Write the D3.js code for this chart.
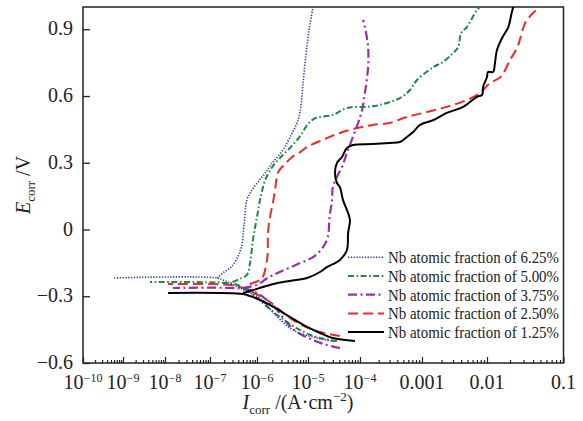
<!DOCTYPE html>
<html><head><meta charset="utf-8">
<script src="https://cdn.jsdelivr.net/npm/d3@7"></script>
<style>body{margin:0;background:#fff} svg{display:block}</style>
</head><body>
<svg id="c" width="583" height="421"></svg>
<script>
// ---------------- DATA ([I (A/cm2), E (V)]) ----------------
const seriesNames = [
  "Nb atomic fraction of 6.25%",
  "Nb atomic fraction of 5.00%",
  "Nb atomic fraction of 3.75%",
  "Nb atomic fraction of 2.50%",
  "Nb atomic fraction of 1.25%"
];
const blueCathodic = [[3.2e-5,-0.503],[1.5e-5,-0.488],[5.1e-6,-0.452],[2.1e-6,-0.375],[1.25e-6,-0.317],[7.1e-7,-0.285],[4.3e-7,-0.263],[2.1e-7,-0.231],[1.4e-7,-0.218],[5.6e-10,-0.218]];
const blueAnodic = [[1.4e-7,-0.218],[2.0e-7,-0.191],[2.8e-7,-0.169],[3.6e-7,-0.137],[4.6e-7,-0.083],[5.3e-7,0.020],[6.1e-7,0.133],[7.4e-7,0.169],[1.05e-6,0.214],[1.5e-6,0.258],[2.0e-6,0.299],[3.2e-6,0.357],[4.9e-6,0.434],[6.4e-6,0.492],[7.3e-6,0.560],[8.0e-6,0.658],[9.1e-6,0.784],[1.05e-5,0.897],[1.25e-5,1.0]];
const greenCathodic = [[3.6e-5,-0.501],[1.7e-5,-0.488],[7.0e-6,-0.452],[2.8e-6,-0.393],[1.3e-6,-0.330],[9.1e-7,-0.299],[6.1e-7,-0.272],[3.9e-7,-0.249],[2.1e-7,-0.240],[4.4e-9,-0.236]];
const greenAnodic = [[3.0e-7,-0.236],[4.3e-7,-0.222],[6.1e-7,-0.204],[7.1e-7,-0.151],[8.2e-7,-0.047],[1.0e-6,0.056],[1.2e-6,0.155],[1.5e-6,0.231],[2.0e-6,0.281],[2.8e-6,0.321],[4.4e-6,0.366],[7.0e-6,0.420],[1.0e-5,0.474],[1.4e-5,0.501],[3.0e-5,0.515],[5.6e-5,0.546],[1.3e-4,0.551],[2.1e-4,0.560],[4.4e-4,0.591],[6.4e-4,0.627],[8.3e-4,0.672],[1.5e-3,0.730],[2.1e-3,0.753],[3.0e-3,0.793],[3.6e-3,0.820],[4.0e-3,0.883],[4.9e-3,0.910],[7.0e-3,0.987],[7.8e-3,1.0]];
const purpleCathodic = [[4.1e-5,-0.533],[2.3e-5,-0.519],[1.25e-5,-0.497],[6.1e-6,-0.461],[3.9e-6,-0.420],[2.3e-6,-0.353],[1.4e-6,-0.308],[9.1e-7,-0.281],[5.6e-7,-0.267],[1.5e-8,-0.263]];
const purpleAnodic = [[5.0e-7,-0.263],[1.0e-6,-0.249],[1.6e-6,-0.218],[2.8e-6,-0.191],[7.0e-6,-0.151],[1.25e-5,-0.124],[1.9e-5,-0.083],[2.4e-5,-0.034],[2.6e-5,0.056],[2.9e-5,0.133],[3.0e-5,0.191],[3.6e-5,0.236],[4.5e-5,0.281],[5.6e-5,0.344],[7.3e-5,0.416],[9.2e-5,0.479],[1.08e-4,0.537],[1.2e-4,0.613],[1.35e-4,0.730],[1.35e-4,0.820],[1.2e-4,0.910],[1.12e-4,0.942]];
const redCathodic = [[4.1e-5,-0.479],[1.25e-5,-0.452],[5.1e-6,-0.407],[2.8e-6,-0.362],[1.8e-6,-0.326],[1.15e-6,-0.299],[7.1e-7,-0.276],[4.3e-7,-0.258],[2.7e-7,-0.249],[1.17e-8,-0.245]];
const redAnodic = [[7.0e-7,-0.245],[1.15e-6,-0.227],[1.3e-6,-0.214],[1.6e-6,-0.124],[1.64e-6,-0.016],[1.8e-6,0.056],[2.1e-6,0.133],[2.3e-6,0.191],[2.6e-6,0.258],[3.4e-6,0.290],[4.9e-6,0.326],[7.0e-6,0.348],[9.6e-6,0.371],[1.9e-5,0.402],[4.1e-5,0.434],[8.7e-5,0.456],[1.6e-4,0.470],[3.0e-4,0.479],[5.7e-4,0.506],[1.2e-3,0.528],[2.4e-3,0.551],[4.9e-3,0.582],[7.8e-3,0.613],[1.09e-2,0.658],[1.5e-2,0.685],[2.0e-2,0.762],[2.5e-2,0.820],[3.16e-2,0.928],[4.0e-2,0.973],[5.0e-2,1.0]];
const blackCathodic = [[8.0e-5,-0.501],[3.0e-5,-0.488],[1.7e-5,-0.465],[9.6e-6,-0.438],[4.4e-6,-0.393],[2.1e-6,-0.348],[1.15e-6,-0.317],[7.1e-7,-0.299],[5.0e-7,-0.290],[1.17e-8,-0.285]];
const blackAnodic = [[5.0e-7,-0.285],[1.0e-6,-0.267],[2.1e-6,-0.245],[4.4e-6,-0.231],[9.6e-6,-0.218],[1.7e-5,-0.191],[2.3e-5,-0.169],[4.1e-5,-0.137],[5.6e-5,-0.092],[5.9e-5,-0.016],[6.4e-5,0.043],[5.6e-5,0.088],[4.7e-5,0.133],[4.1e-5,0.191],[3.6e-5,0.209],[3.3e-5,0.254],[3.6e-5,0.299],[4.5e-5,0.326],[5.6e-5,0.366],[7.3e-5,0.380],[1.6e-4,0.384],[3.0e-4,0.389],[4.4e-4,0.393],[5.7e-4,0.416],[7.2e-4,0.438],[9.3e-4,0.470],[1.5e-3,0.492],[2.4e-3,0.524],[4.3e-3,0.551],[7.0e-3,0.596],[8.4e-3,0.605],[8.7e-3,0.641],[1.0e-2,0.685],[1.03e-2,0.708],[1.2e-2,0.708],[1.27e-2,0.748],[1.35e-2,0.807],[1.6e-2,0.865],[1.9e-2,0.910],[2.1e-2,0.973],[2.2e-2,1.0]];

const yTickValues = [-0.6,-0.3,0,0.3,0.6,0.9];
const xTickExponents = [-10,-9,-8,-7,-6,-5,-4,-3,-2,-1];
const xTickLabels = ["10^−10","10^−9","10^−8","10^−7","10^−6","10^−5","10^−4","0.001","0.01","0.1"];

// ---------------- LAYOUT ----------------
const L=83, R=563.5, T=7, B=363;
const xMajorPx = [83,123,165,210,257,308,360,422,487,563.5];
const FONT = "'Liberation Serif','Times New Roman',serif";
const svg = d3.select("#c");

const xMajor = xTickExponents.map(e=>Math.pow(10,e));
const x = d3.scaleLog().domain(xMajor).range(xMajorPx);
const y = d3.scaleLinear().domain([-0.6,1.0]).range([B,T]);

svg.append("defs").append("clipPath").attr("id","clip")
  .append("rect").attr("x",L).attr("y",T).attr("width",R-L).attr("height",B-T);

// minor ticks
const minors = [];
xTickExponents.slice(0,-1).forEach(e=>{ for(let k=2;k<10;k++) minors.push(k*Math.pow(10,e)); });

const gx = svg.append("g").attr("transform",`translate(0,${B})`);
gx.call(d3.axisBottom(x).tickValues(xMajor).tickSize(-6).tickFormat(""));
const gxm = svg.append("g").attr("transform",`translate(0,${B})`);
gxm.call(d3.axisBottom(x).tickValues(minors).tickSize(-3).tickFormat(""));
[gx,gxm].forEach(g=>{ g.select(".domain").remove(); g.selectAll("line").attr("stroke","#222").attr("stroke-width",1.2); });

// x tick labels
xTickLabels.forEach((lab,i)=>{
  const t = svg.append("text").attr("x",x(xMajor[i])).attr("y",389)
    .attr("text-anchor","middle").attr("font-family",FONT).attr("font-size",20).attr("fill","#222");
  if(lab.includes("^")){
    const [b,s]=lab.split("^");
    t.append("tspan").text(b);
    t.append("tspan").attr("font-size",12).attr("dy",-7).text(s);
  } else t.text(lab);
});

// y axis
const gy = svg.append("g").attr("transform",`translate(${L},0)`);
gy.call(d3.axisLeft(y).tickValues(yTickValues).tickSize(-7).tickPadding(10)
  .tickFormat(d=> d===0 ? "0" : d3.format(".1f")(d)));
gy.select(".domain").remove();
gy.selectAll("line").attr("stroke","#222").attr("stroke-width",1.3);
gy.selectAll("text").attr("font-family",FONT).attr("font-size",20).attr("fill","#222").attr("dy","0.28em");

// frame
svg.append("rect").attr("x",L).attr("y",T).attr("width",R-L).attr("height",B-T)
  .attr("fill","none").attr("stroke","#222").attr("stroke-width",1.5);

// axis titles
const xt = svg.append("text").attr("x",298).attr("y",409).attr("text-anchor","middle")
  .attr("font-family",FONT).attr("font-size",20).attr("fill","#222");
xt.append("tspan").attr("font-style","italic").text("I");
xt.append("tspan").attr("font-size",13).attr("dy",5).text("corr");
xt.append("tspan").attr("dy",-5).text(" /(A\u00b7cm");
xt.append("tspan").attr("font-size",13).attr("dy",-8).text("\u22122");
xt.append("tspan").attr("dy",8).text(")");

const yt = svg.append("text").attr("transform","translate(30,185) rotate(-90)").attr("text-anchor","middle")
  .attr("font-family",FONT).attr("font-size",20).attr("fill","#222");
yt.append("tspan").attr("font-style","italic").text("E");
yt.append("tspan").attr("font-size",13).attr("dy",5).text("corr");
yt.append("tspan").attr("dy",-5).text(" /V");

// series
const styles = [
  {color:"#2e3fa6", width:1.6, dash:"1.3,1.5"},
  {color:"#1c8a3e", width:2,   dash:"6,2.5,1.6,2.5"},
  {color:"#9a2fa8", width:2.2, dash:"9,3.5,2,3.5"},
  {color:"#ec2a2a", width:2,   dash:"10,5"},
  {color:"#000000", width:2,   dash:null}
];
const seriesData = [
  [blueCathodic, blueAnodic],
  [greenCathodic, greenAnodic],
  [purpleCathodic, purpleAnodic],
  [redCathodic, redAnodic],
  [blackCathodic, blackAnodic]
];
const line = d3.line().x(d=>x(d[0])).y(d=>y(d[1])).curve(d3.curveCatmullRom.alpha(0.5));
const plot = svg.append("g").attr("clip-path","url(#clip)");
[3,2,1,0,4].forEach(i=>{
  seriesData[i].forEach(arr=>{
    plot.append("path").attr("d",line(arr)).attr("fill","none")
      .attr("stroke",styles[i].color).attr("stroke-width",styles[i].width)
      .attr("stroke-dasharray",styles[i].dash).attr("stroke-linejoin","round");
  });
});

// legend
seriesNames.forEach((name,i)=>{
  const ly = 257.3 + i*18.7;
  svg.append("line").attr("x1",348).attr("x2",384).attr("y1",ly).attr("y2",ly)
    .attr("stroke",styles[i].color).attr("stroke-width",styles[i].width)
    .attr("stroke-dasharray",styles[i].dash);
  svg.append("text").attr("x",388).attr("y",ly+6).attr("font-family",FONT).attr("font-size",17)
    .attr("textLength",171).attr("lengthAdjust","spacingAndGlyphs").attr("fill","#222").text(name);
});
</script>
</body></html>
